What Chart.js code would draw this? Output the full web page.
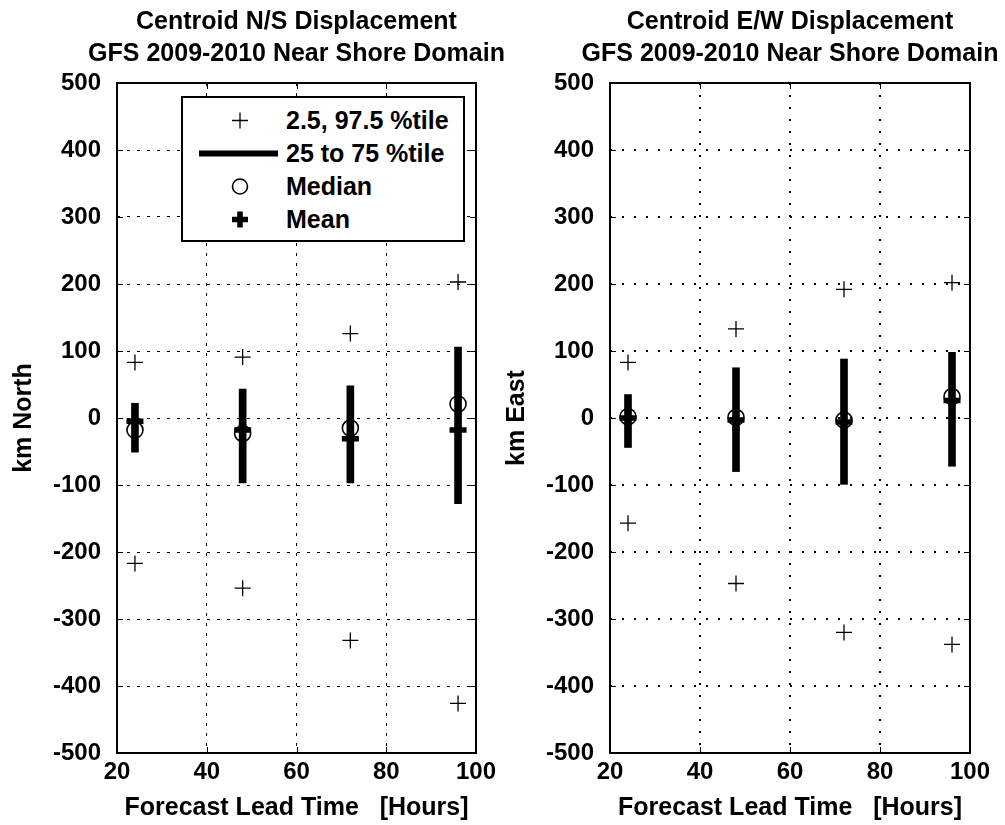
<!DOCTYPE html>
<html lang="en">
<head>
  <meta charset="UTF-8" />
  <title>Centroid Displacement</title>
  <script src="https://cdn.jsdelivr.net/npm/chart.js"></script>
  <style>
    body {
      margin: 0;
      padding: 0;
      background-color: white;
      font-family: "Liberation Sans", Arial, sans-serif;
    }

    .page {
      position: relative;
      width: 1005px;
      height: 825px;
    }

    canvas {
      position: absolute;
      top: 0;
    }

    #nsChart { left: 0; }
    #ewChart { left: 500px; }

    .legend {
      position: absolute;
      left: 181px;
      top: 96px;
      width: 280px;
      height: 136px;
      border: 2px solid black;
      background: white;
      padding-top: 6px;
      box-sizing: content-box;
    }

    .legend-row {
      position: relative;
      height: 33px;
    }

    .legend-row svg {
      position: absolute;
      left: 14px;
      top: 0;
    }

    .legend-row span {
      position: absolute;
      left: 103px;
      top: 0;
      line-height: 33px;
      font-size: 25px;
      font-weight: bold;
      white-space: nowrap;
    }
  </style>
</head>
<body>
  <div class="page">
    <canvas id="nsChart" width="540" height="825"></canvas>
    <canvas id="ewChart" width="505" height="825"></canvas>
    <div class="legend" id="legend"></div>
  </div>

  <script>
    const leadTimes = [24, 48, 72, 96];
    const xTicks = [20, 40, 60, 80, 100];
    const yTicks = [-500, -400, -300, -200, -100, 0, 100, 200, 300, 400, 500];
    const legendLabels = ['2.5, 97.5 %tile', '25 to 75 %tile', 'Median', 'Mean'];

    // N/S displacement (km North)
    const nsP025 = [-217, -254, -332, -426];
    const nsP975 = [83, 91, 126, 203];
    const nsP25 = [-51, -97, -97, -128];
    const nsP75 = [22, 43, 48, 106];
    const nsMedian = [-18, -23, -15, 21];
    const nsMean = [-5, -18, -31, -18];

    // E/W displacement (km East)
    const ewP025 = [-157, -247, -320, -338];
    const ewP975 = [83, 133, 192, 202];
    const ewP25 = [-44, -80, -99, -72];
    const ewP75 = [35, 75, 88, 98];
    const ewMedian = [2, 1, -3, 32];
    const ewMean = [0, -3, -6, 26];

    const FONT = '"Liberation Sans", Arial, sans-serif';

    // box, inward ticks and two-line title centred on the plot area
    const framePlugin = {
      id: 'frame',
      afterDraw(chart, args, opts) {
        const { ctx, chartArea: a, scales } = chart;
        ctx.save();
        ctx.strokeStyle = '#000';
        ctx.lineWidth = 1;
        const tl = 6;
        scales.x.ticks.forEach(t => {
          const px = Math.round(scales.x.getPixelForValue(t.value)) + 0.5;
          ctx.beginPath();
          ctx.moveTo(px, a.top); ctx.lineTo(px, a.top + tl);
          ctx.moveTo(px, a.bottom); ctx.lineTo(px, a.bottom - tl);
          ctx.stroke();
        });
        scales.y.ticks.forEach(t => {
          const py = Math.round(scales.y.getPixelForValue(t.value)) + 0.5;
          ctx.beginPath();
          ctx.moveTo(a.left, py); ctx.lineTo(a.left + tl, py);
          ctx.moveTo(a.right, py); ctx.lineTo(a.right - tl, py);
          ctx.stroke();
        });
        ctx.lineWidth = 2;
        ctx.strokeRect(a.left, a.top, a.right - a.left, a.bottom - a.top);

        ctx.fillStyle = '#000';
        ctx.font = 'bold 25px ' + FONT;
        ctx.textAlign = 'center';
        ctx.textBaseline = 'middle';
        opts.lines.forEach((s, i) => ctx.fillText(s, (a.left + a.right) / 2, 22 + i * 32));
        ctx.restore();
      }
    };

    function makeChart(id, title, yLabel, axisWidth, padRight, yTitlePad, dash, gridWidth,
                       p025, p975, p25, p75, med, mean) {
      const tickFont = { family: FONT, size: 24, weight: 'bold' };
      const titleFont = { family: FONT, size: 25, weight: 'bold' };
      return new Chart(document.getElementById(id), {
        type: 'scatter',
        data: {
          datasets: [
            {
              label: 'Mean',
              data: leadTimes.map((x, i) => ({ x, y: mean[i] })),
              pointStyle: 'cross',
              pointRadius: 8.5,
              pointBorderWidth: 5.5,
              pointBorderColor: '#000',
              order: 0
            },
            {
              label: 'Median',
              data: leadTimes.map((x, i) => ({ x, y: med[i] })),
              pointStyle: 'circle',
              pointRadius: 8,
              pointBorderWidth: 1.6,
              pointBorderColor: '#000',
              pointBackgroundColor: 'rgba(0,0,0,0)',
              order: 1
            },
            {
              type: 'bar',
              label: '25 to 75 %tile',
              data: leadTimes.map((x, i) => ({ x, y: [p25[i], p75[i]] })),
              backgroundColor: '#000',
              borderWidth: 0,
              barThickness: 7,
              grouped: false,
              order: 2
            },
            {
              label: '2.5, 97.5 %tile',
              data: leadTimes.map((x, i) => ({ x, y: p025[i] }))
                .concat(leadTimes.map((x, i) => ({ x, y: p975[i] }))),
              pointStyle: 'cross',
              pointRadius: 8,
              pointBorderWidth: 1.3,
              pointBorderColor: '#000',
              order: 3
            }
          ]
        },
        options: {
          responsive: false,
          animation: false,
          devicePixelRatio: 1,
          layout: { padding: { top: 83, right: padRight, bottom: 0, left: 0 } },
          scales: {
            x: {
              type: 'linear',
              min: 20,
              max: 100,
              offset: false,
              afterBuildTicks: s => { s.ticks = xTicks.map(v => ({ value: v })); },
              afterFit: s => { s.height = 72; },
              ticks: { color: '#000', font: tickFont, padding: 5, maxRotation: 0 },
              grid: { color: '#000', lineWidth: gridWidth, drawTicks: false, offset: false },
              border: { display: false, dash: dash },
              title: {
                display: true,
                text: 'Forecast Lead Time   [Hours]',
                color: '#000',
                font: titleFont,
                padding: { top: 0, bottom: 2 }
              }
            },
            y: {
              type: 'linear',
              min: -500,
              max: 500,
              afterBuildTicks: s => { s.ticks = yTicks.map(v => ({ value: v })); },
              afterFit: s => { s.width = axisWidth; },
              ticks: { color: '#000', font: tickFont, padding: 16 },
              grid: { color: '#000', lineWidth: gridWidth, drawTicks: false },
              border: { display: false, dash: dash },
              title: {
                display: true,
                text: yLabel,
                color: '#000',
                font: titleFont,
                padding: { top: yTitlePad, bottom: 0 }
              }
            }
          },
          plugins: {
            legend: { display: false },
            tooltip: { enabled: false },
            frame: { lines: title }
          }
        },
        plugins: [framePlugin]
      });
    }

    // the left canvas runs under the right one so its long title line is not cut
    makeChart('nsChart', ['Centroid N/S Displacement', 'GFS 2009-2010 Near Shore Domain'], 'km North',
      117, 64, 9, [3, 7], 1, nsP025, nsP975, nsP25, nsP75, nsMedian, nsMean);
    makeChart('ewChart', ['Centroid E/W Displacement', 'GFS 2009-2010 Near Shore Domain'], 'km East',
      110, 35, 2, [2, 10], 2, ewP025, ewP975, ewP25, ewP75, ewMedian, ewMean);

    // legend markers drawn as small svgs, one per entry
    const legendMarkers = [
      '<path d="M35 8.5 H51 M43 0.5 V16.5" stroke="#000" stroke-width="1.3" fill="none"/>',
      '<path d="M2 8.5 H81" stroke="#000" stroke-width="6" fill="none"/>',
      '<circle cx="43" cy="8.5" r="7.5" stroke="#000" stroke-width="1.6" fill="none"/>',
      '<path d="M35 8.5 H51 M43 0.5 V16.5" stroke="#000" stroke-width="5.5" fill="none"/>'
    ];
    const legendEl = document.getElementById('legend');
    legendLabels.forEach((label, i) => {
      const row = document.createElement('div');
      row.className = 'legend-row';
      row.innerHTML = '<svg width="86" height="33" viewBox="0 -8 86 33">' + legendMarkers[i] + '</svg>';
      const span = document.createElement('span');
      span.textContent = label;
      row.appendChild(span);
      legendEl.appendChild(row);
    });
  </script>
</body>
</html>
